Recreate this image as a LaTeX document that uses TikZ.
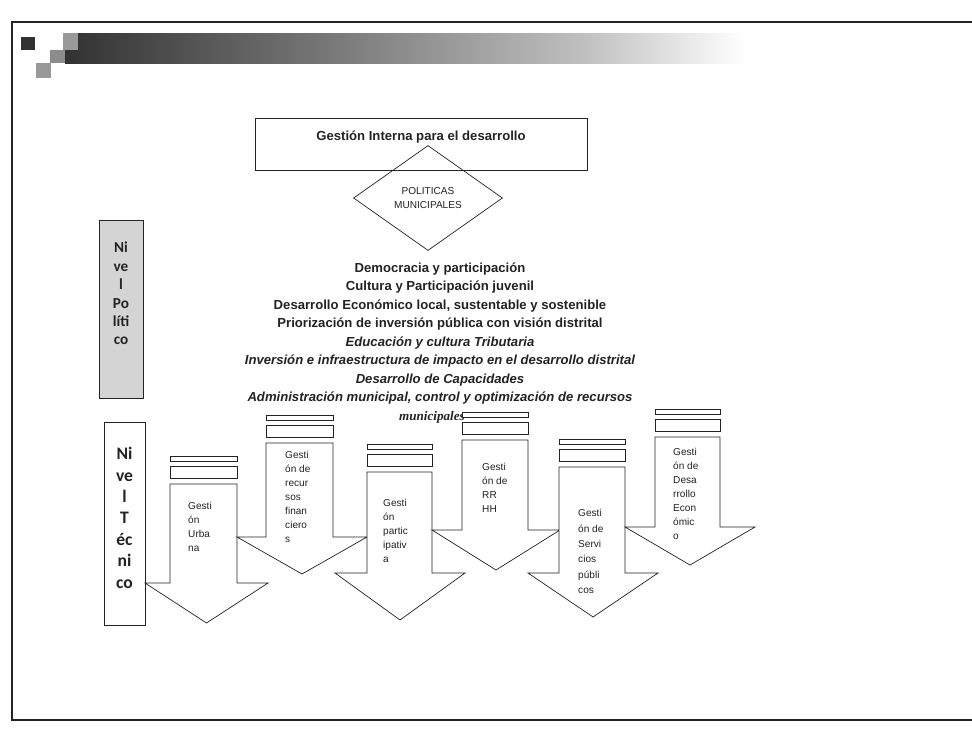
\documentclass[tikz,border=0pt]{standalone}
\usepackage{fontspec}
\setmainfont{Liberation Sans}
\newfontfamily\nivelfont{Carlito}
\newfontfamily\serifit{Liberation Serif}
\usetikzlibrary{shapes.geometric,positioning}
\usepackage{xcolor}
\definecolor{inkGray}{RGB}{35,35,35}
\definecolor{scanGray}{RGB}{212,212,212}
\definecolor{barDark}{RGB}{50,50,50}
\definecolor{barMid}{RGB}{120,120,120}
\definecolor{barLight}{RGB}{190,190,190}

\begin{document}
\begin{tikzpicture}[
  x=0.03cm, y=-0.03cm,
  frameline/.style={draw=inkGray, line width=0.9pt},
  outline/.style={draw=inkGray, line width=0.6pt},
  blockarrow/.style={outline, fill=white, line join=miter},
  bartab/.style={outline, fill=white},
  titlebox/.style={rectangle, outline, minimum width=9.96cm,
                   minimum height=1.56cm, inner sep=0pt},
  policydiamond/.style={diamond, outline, minimum width=4.47cm,
                   minimum height=3.15cm, inner sep=0pt, align=center,
                   font=\fontsize{8.6}{12.5}\selectfont, text=inkGray},
  policy/.style={anchor=base, inner sep=0pt, text=inkGray,
                 font=\fontsize{11.2}{13}\selectfont\bfseries},
  policyit/.style={policy, font=\fontsize{11.2}{13}\selectfont\bfseries\itshape},
  armtext/.style={anchor=north west, align=left, inner sep=0pt, text=inkGray,
                  font=\fontsize{8.6}{11.9}\selectfont},
  nivelbox/.style={rectangle, outline, inner sep=0pt},
  niveltext/.style={anchor=north, align=center, inner sep=0pt, text=inkGray}
]
  \useasboundingbox (0,0) rectangle (972,729);
  \fill[white] (0,0) rectangle (972,729);

  % frame and header bar
  \draw[frameline] (972,22) -- (12,22) -- (12,720) -- (972,720);
  \fill[barDark] (21,37) rectangle (35,50);
  \shade[left color=barDark, right color=barMid] (65,33) rectangle (330,63);
  \shade[left color=barMid, right color=barLight] (330,33) rectangle (580,63);
  \shade[left color=barLight, right color=white] (580,33) rectangle (745,63);
  \fill[black!40] (63,33) rectangle (78,50);
  \fill[black!45] (50,50) rectangle (65,63);
  \fill[black!40] (36,63) rectangle (51,78);

  % top of the diagram
  \node[titlebox] (gestion) at (421,144) {};
  \node[policy] (gestiontxt) at (421,140) {Gestión Interna para el desarrollo};
  \node[policydiamond] (politicas) at (428,198) {POLITICAS\\MUNICIPALES};

  % policy list
  \node[policy]   (democracia)     at (440,272) {Democracia y participación};
  \node[policy]   (cultura)        at (440,290) {Cultura y Participación juvenil};
  \node[policy]   (economico)      at (440,309) {Desarrollo Económico local, sustentable y sostenible};
  \node[policy]   (priorizacion)   at (440,327) {Priorización de inversión pública con visión distrital};
  \node[policyit] (educacion)      at (440,346) {Educación y cultura Tributaria};
  \node[policyit] (inversion)      at (440,364) {Inversión e infraestructura de impacto en el desarrollo distrital};
  \node[policyit] (capacidades)    at (440,383) {Desarrollo de Capacidades};
  \node[policyit] (administracion) at (440,401) {Administración municipal, control y optimización de recursos};
  \node[policy, font=\fontsize{11.2}{13}\selectfont\serifit\bfseries\itshape]
    (municipales) at (432,420) {municipales};

  % level boxes
  \node[nivelbox, fill=scanGray, minimum width=1.32cm, minimum height=5.34cm]
    (politico) at (121,309) {};
  \node[niveltext, font=\fontsize{13}{15.7}\selectfont\nivelfont\bfseries]
    (politicotxt) at (121,242) {Ni\\ve\\l\\Po\\líti\\co};
  \node[nivelbox, fill=white, minimum width=1.23cm, minimum height=6.09cm]
    (tecnico) at (124.5,523.5) {};
  \node[niveltext, font=\fontsize{15}{18.3}\selectfont\nivelfont\bfseries]
    (tecnicotxt) at (124.5,447) {Ni\\ve\\l\\T\\éc\\ni\\co};

  % management arrows
  \foreach \xl/\xr/\yt/\yb/\hl/\hr/\yp in {
      170/237/484/583/145/268/623, 266/333/443/537/237/367/574,
      367/432/472/573/335/465/620, 462/528/440/530/432/560/570,
      559/625/467/573/528/658/617, 655/720/437/527/625/755/565}{
    \draw[bartab] (\xl,\yt-28) rectangle (\xr,\yt-23);
    \draw[bartab] (\xl,\yt-18) rectangle (\xr,\yt-6);
    \draw[blockarrow] (\xl,\yt) -- (\xr,\yt) -- (\xr,\yb) -- (\hr,\yb)
      -- ({(\hl+\hr)/2},\yp) -- (\hl,\yb) -- (\xl,\yb) -- cycle;
  }
  \node[armtext] (urbana)      at (188,502) {Gesti\\ón\\Urba\\na};
  \node[armtext] (financieros) at (285,451) {Gesti\\ón de\\recur\\sos\\finan\\ciero\\s};
  \node[armtext] (participa)   at (383,499) {Gesti\\ón\\partic\\ipativ\\a};
  \node[armtext] (rrhh)        at (482,463) {Gesti\\ón de\\RR\\HH};
  \node[armtext, font=\fontsize{8.6}{13.2}\selectfont]
    (servicios) at (578,509) {Gesti\\ón de\\Servi\\cios\\públi\\cos};
  \node[armtext] (desarrollo)  at (673,448) {Gesti\\ón de\\Desa\\rrollo\\Econ\\ómic\\o};
\end{tikzpicture}
\end{document}
